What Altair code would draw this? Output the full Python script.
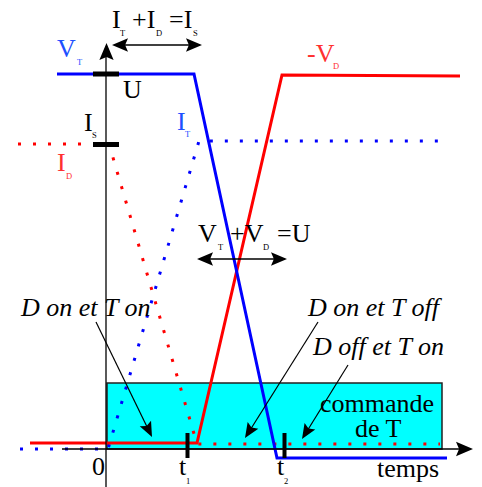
import altair as alt
import pandas as pd

# ---- curve vertices (diagram coordinates) ----
vt_x = [57, 194, 277, 447]          # V_T (blue, solid)
vt_y = [74, 74, 458, 458]
vd_x = [30, 197, 282, 460]          # -V_D (red, solid)
vd_y = [443, 443, 75, 76]
id_x = [18, 109, 197, 440]          # I_D (red, dotted)
id_y = [144, 144, 444, 444]
it_x = [20, 108, 199, 448]          # I_T (blue, dotted)
it_y = [449, 449, 141, 141]

# command box
box_x = [107]; box_x2 = [442]; box_y = [383]; box_y2 = [449]

# rule segments: x, y, x2, y2, width
seg_x  = [106, 62, 93, 93, 187.5, 284.5, 115, 199, 96, 318, 348]
seg_y  = [487, 449, 74, 144.5, 433, 433, 45, 259, 322, 322, 365]
seg_x2 = [106, 461, 119, 119, 187.5, 284.5, 200, 285, 150, 247, 304]
seg_y2 = [56, 449, 74, 144.5, 458, 458, 45, 259, 433, 435, 436]
seg_w  = [1.3, 1.3, 5, 5, 4, 4, 1.3, 1.3, 1.2, 1.2, 1.2]

# arrow heads: tip x, tip y, angle, length
ah_x = [106.5, 473, 112, 202, 197, 287, 152, 245, 302]
ah_y = [43, 449, 45, 45, 259, 259, 437, 438, 439]
ah_a = [0, 90, 270, 90, 270, 90, 153.8, 212.2, 211.9]
ah_l = [17, 17, 16, 16, 16, 16, 15, 15, 15]

BLK, BLUE, RED = "#000000", "#0000ff", "#ff0000"
TBLUE, TRED = "#1e50ff", "#ff3030"
BIG, SUB = 26, 8.5

lab_text = ["I", "T", "+I", "D", "=I", "S",
            "V", "T", "U", "I", "S", "I", "D", "I", "T", "-V", "D",
            "V", "T", "+V", "D", "=U",
            "0", "t", "1", "t", "2", "temps", "commande", "de T"]
lab_x = [112, 120, 132, 156, 169, 193,
         57, 77, 123, 84, 92, 57, 66, 177, 185, 307, 333,
         198, 218, 230, 263, 277,
         92, 179, 186, 277, 284, 377, 320, 355]
lab_y = [28, 36, 28, 36, 28, 36,
         57, 65, 98, 131, 138, 171, 179, 130, 137, 62, 69,
         242, 250, 242, 250, 242,
         475, 475, 484, 475, 484, 477, 412, 437]
lab_s = [BIG, SUB, BIG, SUB, BIG, SUB,
         BIG, SUB, BIG, BIG, SUB, BIG, SUB, BIG, SUB, BIG, SUB,
         BIG, SUB, BIG, SUB, BIG,
         BIG, BIG, SUB, BIG, SUB, BIG, BIG, BIG]
lab_c = [BLK] * 6 + [TBLUE, TBLUE, BLK, BLK, BLK, TRED, TRED, TBLUE, TBLUE, TRED, TRED] + [BLK] * 5 + [BLK] * 8

it_text = ["D on et T on", "D on et T off", "D off et T on"]
it_lx = [21, 308, 313]
it_ly = [316, 316, 355]

# ---- build ----
XS = alt.Scale(domain=[8, 474], nice=False, zero=False)
YS = alt.Scale(domain=[8, 479], nice=False, zero=False, reverse=True)

def X(f):
    return alt.X(f, type="quantitative", scale=XS, axis=None)

def Y(f):
    return alt.Y(f, type="quantitative", scale=YS, axis=None)

def line_df(xs, ys):
    return pd.DataFrame({"x": xs, "y": ys, "o": list(range(len(xs)))})

box = alt.Chart(pd.DataFrame({"x": box_x, "x2": box_x2, "y": box_y, "y2": box_y2})).mark_rect(
    fill="#00ffff", stroke="#222222", strokeWidth=1.5
).encode(x=X("x"), x2="x2", y=Y("y"), y2="y2")

def dotted(xs, ys, col):
    return alt.Chart(line_df(xs, ys)).mark_line(
        color=col, strokeWidth=3, strokeDash=[3, 12], strokeCap="butt"
    ).encode(x=X("x"), y=Y("y"), order="o:Q")

def solid(xs, ys, col):
    return alt.Chart(line_df(xs, ys)).mark_line(
        color=col, strokeWidth=3, strokeJoin="miter"
    ).encode(x=X("x"), y=Y("y"), order="o:Q")

segs = alt.Chart(pd.DataFrame({"x": seg_x, "y": seg_y, "x2": seg_x2, "y2": seg_y2, "w": seg_w})).mark_rule(
    color="black", strokeCap="butt"
).encode(x=X("x"), y=Y("y"), x2="x2", y2="y2", strokeWidth=alt.StrokeWidth("w:Q", scale=None))

ARROW = "M0,0 L-0.42,1 L0,0.82 L0.42,1 Z"
heads = alt.Chart(pd.DataFrame({"x": ah_x, "y": ah_y, "a": ah_a,
                                "s": [(2 * l) ** 2 for l in ah_l]})).mark_point(
    shape=ARROW, filled=True, color="black", opacity=1, strokeWidth=0
).encode(x=X("x"), y=Y("y"), angle=alt.Angle("a:Q", scale=None), size=alt.Size("s:Q", scale=None))

labels = alt.Chart(pd.DataFrame({"t": lab_text, "x": lab_x, "y": lab_y, "s": lab_s, "c": lab_c})).mark_text(
    align="left", baseline="alphabetic", font="Liberation Serif"
).encode(x=X("x"), y=Y("y"), text="t:N",
         size=alt.Size("s:Q", scale=None), color=alt.Color("c:N", scale=None))

ital = alt.Chart(pd.DataFrame({"t": it_text, "x": it_lx, "y": it_ly})).mark_text(
    align="left", baseline="alphabetic", font="Liberation Serif", fontStyle="italic",
    fontSize=BIG, color="black"
).encode(x=X("x"), y=Y("y"), text="t:N")

chart = alt.layer(
    box,
    dotted(id_x, id_y, RED),
    dotted(it_x, it_y, BLUE),
    solid(vd_x, vd_y, RED),
    solid(vt_x, vt_y, BLUE),
    segs, heads, labels, ital,
).properties(
    width=466, height=471,
    padding={"left": 0, "top": 0, "right": 0, "bottom": 8},
    autosize=alt.AutoSizeParams(type="none"),
).configure_view(stroke=None)

chart.save("out.html", embed_options={"renderer": "svg", "actions": False})
